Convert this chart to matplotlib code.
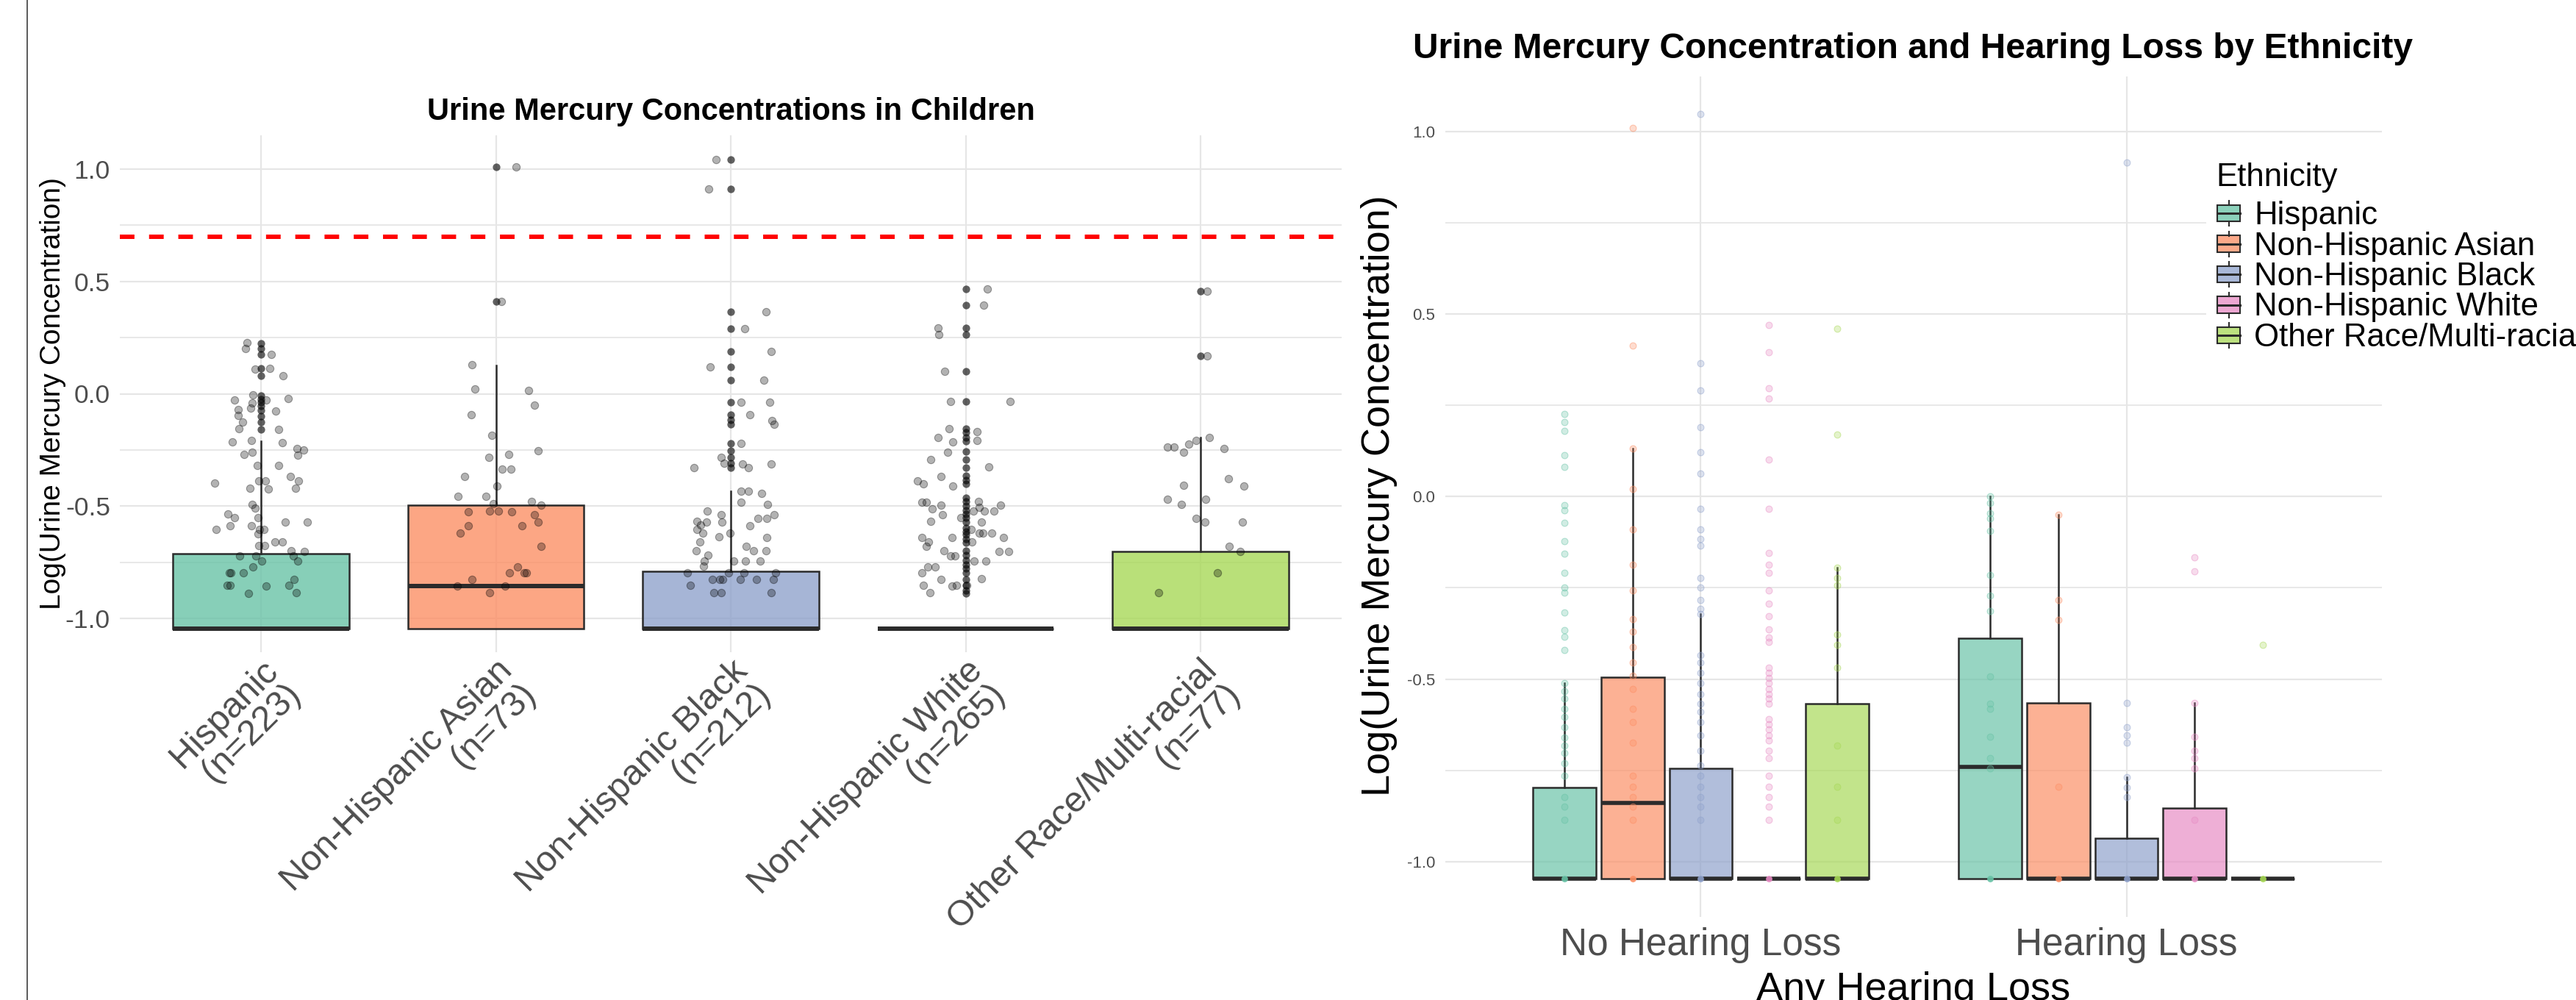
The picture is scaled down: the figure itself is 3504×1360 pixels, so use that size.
import matplotlib
matplotlib.use("Agg")
import matplotlib.pyplot as plt
from matplotlib import font_manager
from matplotlib.colors import to_rgba
from matplotlib.lines import Line2D
from matplotlib.patches import Rectangle

W, H, DPI = 3504, 1360, 100

installed = {f.name for f in font_manager.fontManager.ttflist}
BASE_FONT = "Liberation Sans" if "Liberation Sans" in installed else "DejaVu Sans"
plt.rcParams["font.family"] = [BASE_FONT, "DejaVu Sans"]

# ---------------------------------------------------------------- data
ethnicities = ["Hispanic", "Non-Hispanic Asian", "Non-Hispanic Black",
               "Non-Hispanic White", "Other Race/Multi-racial"]
group_n = [223, 73, 212, 265, 77]
palette = ["#66C2A5", "#FC8D62", "#8DA0CB", "#E78AC3", "#A6D854"]

LOD = -1.046          # log10 of the value assigned below detection
REF_LINE = 0.699      # log10(5)

# left panel: box stats per ethnicity
left_q1 = [-1.046, -1.046, -1.046, -1.046, -1.046]
left_med = [-1.046, -0.856, -1.046, -1.046, -1.046]
left_q3 = [-0.712, -0.497, -0.790, -1.046, -0.701]
left_whisk = [-0.211, 0.126, -0.434, -1.046, -0.196]

left_outliers = [
    [0.225, 0.201, 0.175, 0.114, 0.079, -0.009, -0.023, -0.038, -0.055,
     -0.073, -0.101, -0.126, -0.158],
    [1.009, 0.411],
    [1.044, 0.911, 0.364, 0.289, 0.187, 0.120, 0.060, -0.038, -0.092,
     -0.116, -0.137, -0.222, -0.254, -0.283, -0.308, -0.329],
    [0.468, 0.393, 0.294, 0.265, 0.100, -0.033, -0.154, -0.173, -0.194,
     -0.211, -0.258, -0.293, -0.329, -0.364, -0.386, -0.400, -0.464, -0.481,
     -0.499, -0.518, -0.535, -0.553, -0.570, -0.599, -0.613, -0.627, -0.645,
     -0.663, -0.698, -0.719, -0.741, -0.762, -0.776, -0.797, -0.826, -0.854,
     -0.876, -0.890],
    [0.456, 0.167],
]

# jittered points: (horizontal jitter, log concentration)
hispanic_pts = [
    (-0.061, 0.226), (-0.065, 0.201), (0.044, 0.174), (-0.025, 0.111), (0.037, 0.114),
    (0.095, 0.080), (-0.034, -0.004), (-0.113, -0.028), (-0.038, -0.041), (0.021, -0.028),
    (0.115, -0.022), (-0.045, -0.063), (-0.096, -0.072), (0.064, -0.076), (-0.097, -0.097),
    (-0.078, -0.126), (-0.095, -0.156), (0.075, -0.160), (-0.122, -0.215), (-0.040, -0.208),
    (0.090, -0.217), (0.154, -0.244), (0.180, -0.251), (0.158, -0.272), (-0.073, -0.269),
    (-0.039, -0.259), (-0.015, -0.319), (0.074, -0.319), (-0.197, -0.397), (-0.008, -0.387),
    (0.018, -0.387), (0.125, -0.367), (0.160, -0.387), (-0.046, -0.420), (0.031, -0.423),
    (0.148, -0.420), (-0.038, -0.492), (-0.026, -0.508), (-0.140, -0.535), (-0.114, -0.553),
    (-0.011, -0.552), (-0.191, -0.603), (-0.132, -0.586), (-0.042, -0.586), (-0.005, -0.603),
    (0.014, -0.603), (0.102, -0.570), (0.198, -0.570), (-0.014, -0.623), (-0.009, -0.677),
    (0.016, -0.677), (0.061, -0.660), (0.090, -0.658), (0.128, -0.698), (0.184, -0.701),
    (-0.092, -0.722), (-0.021, -0.722), (0.003, -0.746), (0.137, -0.722), (0.158, -0.746),
    (-0.035, -0.771), (-0.127, -0.798), (-0.134, -0.798), (-0.075, -0.798), (0.142, -0.826),
    (-0.143, -0.854), (-0.132, -0.854), (0.023, -0.856), (0.118, -0.854), (-0.053, -0.888),
    (0.151, -0.887),
]
asian_pts = [
    (0.087, 1.009), (0.023, 0.411), (-0.103, 0.130), (-0.088, 0.022), (0.138, 0.016),
    (0.164, -0.051), (-0.106, -0.092), (-0.016, -0.186), (-0.030, -0.282), (0.054, -0.269),
    (0.179, -0.254), (-0.134, -0.367), (0.027, -0.337), (0.065, -0.337), (0.006, -0.410),
    (-0.161, -0.457), (-0.043, -0.457), (0.153, -0.481), (0.192, -0.497), (-0.011, -0.489),
    (-0.116, -0.524), (-0.026, -0.522), (0.011, -0.522), (0.066, -0.524), (0.164, -0.538),
    (0.179, -0.570), (-0.116, -0.587), (0.112, -0.586), (-0.151, -0.620), (0.193, -0.678),
    (0.091, -0.771), (0.057, -0.798), (0.120, -0.798), (0.130, -0.798), (-0.101, -0.826),
    (-0.165, -0.856), (0.039, -0.856), (-0.027, -0.887),
]
black_pts = [
    (-0.063, 1.044), (-0.094, 0.911), (0.149, 0.364), (0.060, 0.289), (0.172, 0.187),
    (-0.089, 0.120), (0.141, 0.060), (0.044, -0.038), (0.165, -0.038), (0.082, -0.092),
    (0.175, -0.120), (0.184, -0.137), (0.044, -0.222), (-0.040, -0.283), (-0.029, -0.308),
    (-0.158, -0.329), (0.050, -0.312), (0.074, -0.329), (0.172, -0.312), (0.044, -0.434),
    (0.076, -0.434), (0.133, -0.444), (0.044, -0.482), (0.158, -0.494), (-0.099, -0.522),
    (-0.040, -0.538), (-0.143, -0.568), (-0.104, -0.570), (-0.038, -0.570), (0.115, -0.555),
    (0.154, -0.555), (0.184, -0.538), (-0.127, -0.585), (-0.145, -0.603), (0.080, -0.586),
    (-0.120, -0.620), (-0.050, -0.637), (-0.002, -0.620), (0.152, -0.640), (-0.133, -0.660),
    (0.066, -0.678), (-0.148, -0.700), (0.096, -0.700), (0.149, -0.700), (-0.096, -0.720),
    (-0.112, -0.745), (-0.115, -0.768), (0.011, -0.746), (0.063, -0.746), (0.125, -0.746),
    (-0.184, -0.798), (-0.008, -0.798), (0.057, -0.798), (0.192, -0.798), (-0.079, -0.826),
    (-0.048, -0.826), (-0.034, -0.826), (0.040, -0.826), (0.110, -0.826), (0.180, -0.826),
    (-0.172, -0.854), (-0.072, -0.887), (-0.041, -0.887), (0.172, -0.887),
]
white_pts = [
    (0.091, 0.468), (0.076, 0.393), (-0.117, 0.294), (-0.113, 0.265), (-0.089, 0.100),
    (-0.063, -0.033), (0.188, -0.035), (-0.071, -0.154), (0.048, -0.167), (-0.117, -0.194),
    (-0.055, -0.215), (0.048, -0.208), (-0.076, -0.259), (-0.148, -0.293), (0.099, -0.327),
    (-0.105, -0.367), (-0.206, -0.387), (-0.180, -0.400), (-0.055, -0.410), (-0.185, -0.482),
    (-0.167, -0.482), (-0.143, -0.511), (-0.105, -0.497), (0.056, -0.481), (0.057, -0.506),
    (0.033, -0.523), (0.079, -0.523), (0.120, -0.523), (0.150, -0.497), (-0.098, -0.538),
    (-0.020, -0.553), (-0.148, -0.568), (0.066, -0.570), (0.023, -0.603), (0.059, -0.620),
    (0.073, -0.620), (0.111, -0.620), (-0.187, -0.640), (-0.058, -0.640), (0.162, -0.640),
    (-0.159, -0.660), (-0.168, -0.678), (0.028, -0.660), (-0.091, -0.698), (-0.065, -0.722),
    (-0.046, -0.721), (0.142, -0.701), (0.184, -0.701), (0.037, -0.746), (0.085, -0.746),
    (-0.160, -0.771), (-0.131, -0.771), (-0.186, -0.798), (-0.104, -0.826), (0.066, -0.823),
    (-0.180, -0.854), (-0.057, -0.856), (-0.040, -0.854), (0.006, -0.854), (-0.152, -0.887),
]
other_pts = [
    (0.029, 0.456), (0.029, 0.167), (-0.140, -0.238), (-0.113, -0.238), (-0.073, -0.261),
    (-0.051, -0.224), (-0.020, -0.208), (0.038, -0.195), (0.101, -0.245), (-0.072, -0.409),
    (0.118, -0.377), (0.185, -0.410), (-0.141, -0.469), (-0.080, -0.494), (0.021, -0.471),
    (-0.018, -0.555), (0.020, -0.570), (0.178, -0.570), (0.121, -0.680), (0.170, -0.701),
    (0.071, -0.796), (-0.178, -0.887),
]
left_points = [hispanic_pts, asian_pts, black_pts, white_pts, other_pts]

# right panel: hearing-loss status x ethnicity
hearing_groups = ["No Hearing Loss", "Hearing Loss"]
nhl_med = [-1.046, -0.838, -1.046, -1.046, -1.046]
nhl_q3 = [-0.797, -0.494, -0.744, -1.046, -0.568]
nhl_whisk = [-0.511, 0.131, -0.321, -1.046, -0.194]
hl_med = [-0.741, -1.046, -1.046, -1.046, -1.046]
hl_q3 = [-0.387, -0.565, -0.935, -0.853, -1.046]
hl_whisk = [0.0, -0.049, -0.768, -0.565, -1.046]

nhl_points = [
    [0.227, 0.203, 0.179, 0.114, 0.081, -0.024, -0.038, -0.071, -0.123, -0.156,
     -0.209, -0.250, -0.264, -0.317, -0.366, -0.384, -0.420, -0.511, -0.532,
     -0.554, -0.582, -0.603, -0.631, -0.659, -0.681, -0.702, -0.730, -0.765,
     -0.822, -0.850, -0.885],
    [1.010, 0.413, 0.131, 0.021, -0.091, -0.187, -0.257, -0.335, -0.370, -0.413,
     -0.455, -0.490, -0.526, -0.582, -0.617, -0.674, -0.765, -0.794, -0.822,
     -0.850, -0.885],
    [1.048, 0.366, 0.290, 0.190, 0.121, 0.063, -0.034, -0.091, -0.116, -0.135,
     -0.222, -0.250, -0.283, -0.307, -0.321, -0.434, -0.455, -0.483, -0.511,
     -0.540, -0.568, -0.589, -0.617, -0.653, -0.695, -0.737, -0.765, -0.794,
     -0.822, -0.850, -0.885],
    [0.469, 0.395, 0.296, 0.268, 0.101, -0.033, -0.154, -0.187, -0.208, -0.257,
     -0.293, -0.328, -0.363, -0.385, -0.399, -0.469, -0.483, -0.497, -0.511,
     -0.526, -0.540, -0.554, -0.568, -0.610, -0.624, -0.638, -0.653, -0.667,
     -0.695, -0.716, -0.765, -0.794, -0.822, -0.850, -0.885],
    [0.460, 0.169, -0.194, -0.222, -0.243, -0.377, -0.406, -0.469, -0.681,
     -0.794, -0.885],
]
hl_points = [
    [0.0, -0.017, -0.045, -0.060, -0.095, -0.215, -0.272, -0.314, -0.493,
     -0.568, -0.582, -0.657, -0.716, -0.744],
    [-0.049, -0.283, -0.338, -0.794],
    [0.914, -0.565, -0.631, -0.653, -0.674, -0.768, -0.796, -0.822],
    [-0.166, -0.205, -0.565, -0.657, -0.695, -0.716, -0.744, -0.885],
    [-0.407],
]

# ---------------------------------------------------------------- helpers
EDGE = "#2b2b2b"
GRID = "#e6e6e6"
TICK_GREY = "#4d4d4d"
YLIM = (-1.1506, 1.1506)


def fig_axes(fig, left, top, right, bottom):
    """Axes placed by pixel edges of the 3504x1360 canvas."""
    return fig.add_axes([left / W, 1 - bottom / H, (right - left) / W, (bottom - top) / H])


def style_axes(ax):
    for side in ax.spines.values():
        side.set_visible(False)
    ax.set_ylim(*YLIM)
    ax.set_yticks([-1.0, -0.5, 0.0, 0.5, 1.0])
    ax.set_yticks([-0.75, -0.25, 0.25, 0.75], minor=True)
    ax.set_yticklabels(["-1.0", "-0.5", "0.0", "0.5", "1.0"])
    ax.grid(True, which="major", color=GRID, lw=1.6)
    ax.grid(True, which="minor", axis="y", color=GRID, lw=1.3)
    ax.tick_params(which="both", length=0)
    ax.set_axisbelow(True)


def draw_box(ax, x, width, q1, med, q3, whisk, color, alpha, edge_lw, med_lw):
    ax.add_patch(Rectangle((x - width / 2, q1), width, q3 - q1,
                           facecolor=to_rgba(color, alpha), edgecolor=EDGE,
                           lw=edge_lw, zorder=2))
    if whisk > q3:
        ax.plot([x, x], [q3, whisk], color=EDGE, lw=edge_lw, zorder=2)
    ax.plot([x - width / 2, x + width / 2], [med, med], color=EDGE, lw=med_lw,
            solid_capstyle="butt", zorder=3)


fig = plt.figure(figsize=(W / DPI, H / DPI), dpi=DPI)
fig.patch.set_facecolor("white")

# ---------------------------------------------------------------- left chart
axL = fig_axes(fig, 163.3, 184, 1824.7, 887)
style_axes(axL)
axL.set_xlim(0.4, 5.6)
positions = list(range(1, len(ethnicities) + 1))

for i, pos in enumerate(positions):
    draw_box(axL, pos, 0.75, left_q1[i], left_med[i], left_q3[i], left_whisk[i],
             palette[i], 0.78, 1.8, 4.3)
    axL.scatter([pos] * len(left_outliers[i]), left_outliers[i], s=55,
                color="black", alpha=0.62, lw=0, zorder=3)
    dx = [p[0] for p in left_points[i]]
    yy = [p[1] for p in left_points[i]]
    axL.scatter([pos + d for d in dx], yy, s=55, facecolor=(0, 0, 0, 0.3),
                edgecolor=(0, 0, 0, 0.35), lw=0.8, zorder=4)

axL.axhline(REF_LINE, color="#ff0000", lw=4.3, dashes=(3.33, 3.33), zorder=5)

axL.set_xticks(positions)
axL.set_xticklabels([f"{e}\n(n={n})" for e, n in zip(ethnicities, group_n)])
axL.tick_params(axis="x", pad=2, labelsize=35, labelcolor=TICK_GREY)
for lab in axL.get_xticklabels():
    lab.set_rotation(45)
    lab.set_ha("right")
    lab.set_va("top")
    lab.set_rotation_mode("anchor")
    lab.set_multialignment("right")
    lab.set_linespacing(0.95)
axL.tick_params(axis="y", pad=9.6, labelsize=25.5, labelcolor=TICK_GREY)

fig.text(994 / W, 1 - 162.5 / H, "Urine Mercury Concentrations in Children",
         ha="center", va="baseline", fontsize=30, fontweight="bold")
fig.text(72 / W, 1 - 535.5 / H, "Log(Urine Mercury Concentration)", rotation=90,
         ha="center", va="center", fontsize=28)

# frame line at the far left of the screenshot
fig.add_artist(Line2D([37 / W, 37 / W], [0, 1], transform=fig.transFigure,
                      color="#5a5a5a", lw=1.4))

# ---------------------------------------------------------------- right chart
axR = fig_axes(fig, 1966, 103.8, 3240, 1246.8)
style_axes(axR)
axR.set_xlim(0.4, 2.6)
dodge = [-0.32, -0.16, 0.0, 0.16, 0.32]
box_w = 0.148

stats = [(nhl_med, nhl_q3, nhl_whisk, nhl_points), (hl_med, hl_q3, hl_whisk, hl_points)]
for g, (meds, q3s, whisks, pts) in enumerate(stats):
    for i in range(len(ethnicities)):
        x = g + 1 + dodge[i]
        draw_box(axR, x, box_w, LOD, meds[i], q3s[i], whisks[i], palette[i],
                 0.68, 1.8, 4.0)
        axR.scatter([x] * len(pts[i]), pts[i], s=40, facecolor=to_rgba(palette[i], 0.3),
                    edgecolor=to_rgba(palette[i], 0.45), lw=0.8, zorder=4)
        axR.scatter([x], [LOD], s=40, color=palette[i], alpha=0.9, lw=0, zorder=4)

axR.set_xticks([1, 2])
axR.set_xticklabels(hearing_groups)
axR.tick_params(axis="x", pad=10, labelsize=37, labelcolor=TICK_GREY)
axR.tick_params(axis="y", pad=10, labelsize=16, labelcolor=TICK_GREY)

fig.text(1922 / W, 1 - 79 / H,
         "Urine Mercury Concentration and Hearing Loss by Ethnicity",
         ha="left", va="baseline", fontsize=34.5, fontweight="bold")
fig.text(1876 / W, 1 - 674 / H, "Log(Urine Mercury Concentration)", rotation=90,
         ha="center", va="center", fontsize=39)
fig.text(2603 / W, 1 - 1360 / H, "Any Hearing Loss", ha="center", va="baseline",
         fontsize=39)

# legend drawn over the panel, like the screenshot
fig.add_artist(Rectangle((3001 / W, 1 - 482 / H), (W - 3001) / W, (482 - 214) / H,
                         transform=fig.transFigure, facecolor="white",
                         edgecolor="none", zorder=5))
fig.text(3014 / W, 1 - 253 / H, "Ethnicity", ha="left", va="baseline",
         fontsize=31.5, zorder=6)
key_centres = [290, 331.5, 373, 414.5, 456]
for i, name in enumerate(ethnicities):
    cy = key_centres[i]
    fig.add_artist(Rectangle((3016 / W, 1 - (cy + 11) / H), 31 / W, 22 / H,
                             transform=fig.transFigure, facecolor=to_rgba(palette[i], 0.75),
                             edgecolor=EDGE, lw=1.5, zorder=6))
    for y0, y1 in [(cy - 17, cy - 11), (cy + 11, cy + 17)]:
        fig.add_artist(Line2D([3031.5 / W] * 2, [1 - y0 / H, 1 - y1 / H],
                              transform=fig.transFigure, color=EDGE, lw=1.5, zorder=6))
    fig.add_artist(Line2D([3016 / W, 3047 / W], [1 - cy / H] * 2,
                          transform=fig.transFigure, color=EDGE, lw=2.2, zorder=7))
    fig.text(3066 / W, 1 - (cy + 15) / H, name, ha="left", va="baseline",
             fontsize=31.5, zorder=7)

fig.savefig("out.png", dpi=DPI, facecolor="white")
